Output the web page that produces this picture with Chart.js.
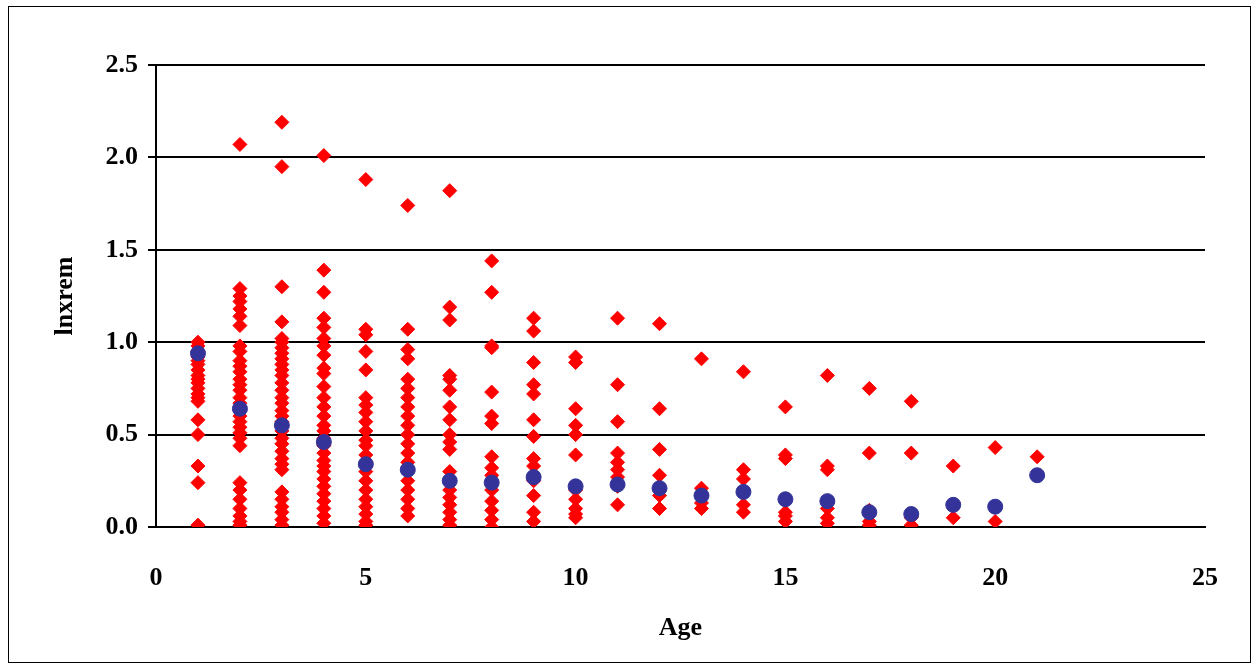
<!DOCTYPE html>
<html><head><meta charset="utf-8">
<script src="https://cdn.jsdelivr.net/npm/chart.js@4"></script>
<style>html,body{margin:0;padding:0;background:#fff}
#wrap{position:absolute;left:8px;top:6px;width:1243px;height:657px;border:1.5px solid #000;box-sizing:border-box}
canvas{display:block}</style></head><body>
<div id="wrap"><canvas id="c"></canvas></div>
<script>
const ages=[1,2,3,4,5,6,7,8,9,10,11,12,13,14,15,16,17,18,19,20,21];
const observed=[
[1.0,0.98,0.95,0.92,0.9,0.88,0.85,0.82,0.8,0.78,0.75,0.72,0.7,0.68,0.58,0.5,0.33,0.24,0.01],
[2.07,1.29,1.25,1.22,1.18,1.14,1.09,0.98,0.95,0.9,0.87,0.84,0.8,0.77,0.74,0.7,0.67,0.63,0.6,0.57,0.54,0.51,0.48,0.44,0.24,0.2,0.15,0.1,0.06,0.03,0.01],
[2.19,1.95,1.3,1.11,1.02,1.0,0.97,0.94,0.91,0.88,0.85,0.82,0.78,0.74,0.7,0.67,0.63,0.6,0.57,0.52,0.48,0.45,0.41,0.37,0.34,0.31,0.19,0.15,0.11,0.08,0.04,0.01],
[2.01,1.39,1.27,1.13,1.08,1.02,0.98,0.93,0.86,0.83,0.76,0.7,0.65,0.6,0.55,0.52,0.48,0.44,0.4,0.36,0.33,0.3,0.26,0.22,0.18,0.14,0.1,0.06,0.02],
[1.88,1.07,1.04,0.95,0.85,0.7,0.66,0.62,0.57,0.52,0.47,0.44,0.39,0.35,0.3,0.25,0.2,0.15,0.11,0.07,0.03,0.01],
[1.74,1.07,0.96,0.91,0.8,0.75,0.7,0.65,0.6,0.55,0.5,0.45,0.4,0.35,0.3,0.25,0.2,0.15,0.1,0.06],
[1.82,1.19,1.12,0.82,0.8,0.74,0.65,0.58,0.5,0.46,0.42,0.3,0.2,0.16,0.12,0.08,0.04,0.01],
[1.44,1.27,0.98,0.97,0.73,0.6,0.56,0.38,0.32,0.28,0.2,0.14,0.09,0.04,0.0],
[1.13,1.06,0.89,0.77,0.72,0.58,0.49,0.37,0.33,0.25,0.17,0.08,0.03],
[0.92,0.89,0.64,0.55,0.5,0.39,0.2,0.15,0.1,0.07,0.05],
[1.13,0.77,0.57,0.4,0.35,0.31,0.27,0.22,0.12],
[1.1,0.64,0.42,0.28,0.2,0.17,0.1],
[0.91,0.21,0.17,0.13,0.1],
[0.84,0.31,0.26,0.12,0.08],
[0.65,0.39,0.37,0.08,0.06,0.03],
[0.82,0.33,0.31,0.1,0.05,0.02],
[0.75,0.4,0.09,0.03,0.01],
[0.68,0.4,0.05,0.01],
[0.33,0.05],
[0.43,0.03],
[0.38]];
const means=[0.94,0.64,0.55,0.46,0.34,0.31,0.25,0.24,0.27,0.22,0.23,0.21,0.17,0.19,0.15,0.14,0.08,0.07,0.12,0.11,0.28];
const yTicks=['0.0','0.5','1.0','1.5','2.0','2.5'];
const obsPts=[];ages.forEach((a,i)=>observed[i].forEach(v=>obsPts.push({x:a,y:v})));
const meanPts=ages.map((a,i)=>({x:a,y:means[i]}));
const font={family:'"Liberation Serif","Times New Roman",serif',size:26,weight:'bold'};
new Chart(document.getElementById('c'),{type:'scatter',
data:{datasets:[
{data:meanPts,pointStyle:'circle',pointRadius:7.5,backgroundColor:'#333399',borderColor:'#333399',order:0},
{data:obsPts,pointStyle:'rectRot',pointRadius:7,backgroundColor:'#ff0000',borderColor:'#ff0000',order:1}]},
options:{responsive:true,maintainAspectRatio:false,animation:false,
layout:{padding:{left:37,right:45,top:58,bottom:14}},
plugins:{legend:{display:false},tooltip:{enabled:false}},
scales:{
x:{type:'linear',min:0,max:25,afterBuildTicks:s=>{s.ticks=[0,5,10,15,20,25].map(v=>({value:v}))},
 afterFit:s=>{s.height=121},
 grid:{display:false,drawTicks:true,tickLength:8,color:'#000'},border:{color:'#000',width:2},
 ticks:{color:'#000',font,padding:28},
 title:{display:true,text:'Age',color:'#000',font,padding:{top:8}}},
y:{min:0,max:2.5,afterBuildTicks:s=>{s.ticks=yTicks.map(t=>({value:parseFloat(t)}))},
 afterFit:s=>{s.width=110},
 grid:{color:'#000',lineWidth:2,tickLength:8},border:{color:'#000',width:2},
 ticks:{color:'#000',font,callback:(v,i)=>yTicks[i],padding:10},
 title:{display:true,text:'lnxrem',color:'#000',font,padding:{bottom:6}}}}}});
</script></body></html>
